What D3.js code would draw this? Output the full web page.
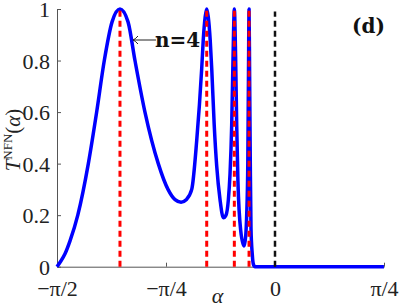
<!DOCTYPE html>
<html>
<head>
<meta charset="utf-8">
<script src="https://cdn.jsdelivr.net/npm/d3@7"></script>
<style>
  body { margin: 0; background: #fff; }
  svg { display: block; }
</style>
</head>
<body>
<div id="chart"></div>
<script>
const svgWidth = 399;
const svgHeight = 304;

const margin = { top: 9, right: 15, bottom: 37.3, left: 57 };
const width = svgWidth - margin.left - margin.right;
const height = svgHeight - margin.top - margin.bottom;

// transmission curve, alpha in radians
const alpha = [-1.571, -1.545, -1.513, -1.477, -1.421, -1.345, -1.285, -1.230, -1.174, -1.117,
  -1.059, -1.009, -0.937, -0.841, -0.771, -0.720, -0.677, -0.640, -0.600, -0.564,
  -0.528, -0.517, -0.503, -0.492, -0.481, -0.467, -0.456, -0.438, -0.420, -0.396,
  -0.372, -0.353, -0.336, -0.324, -0.312, -0.302, -0.293, -0.284, -0.276, -0.267,
  -0.247, -0.223, -0.211, -0.204, -0.196, -0.191, -0.187, -0.183, -0.178, -0.173,
  -0.164, -0.156, -0.144, 0.785];
const tNFN = [0, 0.02, 0.05, 0.1, 0.2, 0.4, 0.6, 0.8, 0.95, 1.0,
  0.95, 0.8, 0.6, 0.4, 0.3, 0.26, 0.25, 0.26, 0.3, 0.49,
  0.77, 0.88, 0.97, 1.0, 0.97, 0.88, 0.77, 0.55, 0.39, 0.26,
  0.19, 0.2, 0.26, 0.36, 0.55, 0.82, 1.0, 0.82, 0.55, 0.33,
  0.14, 0.08, 0.12, 0.2, 0.4, 0.75, 1.0, 0.75, 0.4, 0.15,
  0.05, 0.01, 0, 0];

// resonance positions (red) and alpha = 0 (black)
const resonances = [-1.117, -0.492, -0.293, -0.187];
const zeroLine = [0];

const xTicks = [-Math.PI / 2, -Math.PI / 4, 0, Math.PI / 4];
const xTickLabels = ["\u2212\u03c0/2", "\u2212\u03c0/4", "0", "\u03c0/4"];
const yTicks = [0, 0.2, 0.4, 0.6, 0.8, 1];

const data = alpha.map((a, i) => ({ a: a, t: tNFN[i] }));

const svg = d3.select("#chart")
  .append("svg")
  .attr("width", svgWidth)
  .attr("height", svgHeight);

const chartGroup = svg.append("g")
  .attr("transform", `translate(${margin.left}, ${margin.top})`);

const xScale = d3.scaleLinear()
  .domain([-Math.PI / 2, Math.PI / 4])
  .range([0, width]);
const yScale = d3.scaleLinear()
  .domain([0, 1])
  .range([height, 0]);

// axes with inward ticks
const bottomAxis = d3.axisBottom(xScale)
  .tickValues(xTicks)
  .tickFormat((d, i) => xTickLabels[i])
  .tickSizeInner(-4)
  .tickSizeOuter(0)
  .tickPadding(8);
const leftAxis = d3.axisLeft(yScale)
  .tickValues(yTicks)
  .tickFormat(d3.format("~g"))
  .tickSizeInner(-4)
  .tickSizeOuter(0)
  .tickPadding(7);

const xAxis = chartGroup.append("g")
  .attr("transform", `translate(0, ${height})`)
  .call(bottomAxis);
const yAxis = chartGroup.append("g")
  .call(leftAxis);

[xAxis, yAxis].forEach(ax => {
  ax.select(".domain").attr("stroke", "#555").attr("stroke-width", 1);
  ax.selectAll(".tick line").attr("stroke", "#555");
  ax.selectAll(".tick text")
    .attr("font-family", "'Liberation Serif', serif")
    .attr("font-size", "22px")
    .attr("fill", "#222");
});
xAxis.selectAll(".tick text").attr("dy", "0.95em");
yAxis.selectAll(".tick text").attr("dy", "0.34em");

// blue curve
const line = d3.line()
  .x(d => xScale(d.a))
  .y(d => yScale(d.t))
  .curve(d3.curveMonotoneX);

chartGroup.append("path")
  .datum(data)
  .attr("d", line)
  .attr("fill", "none")
  .attr("stroke", "#0000ff")
  .attr("stroke-width", 3.5)
  .attr("stroke-linejoin", "round");

// dashed vertical lines
chartGroup.selectAll(".res")
  .data(resonances)
  .join("line")
  .attr("class", "res")
  .attr("x1", d => xScale(d))
  .attr("x2", d => xScale(d))
  .attr("y1", yScale(0))
  .attr("y2", yScale(1))
  .attr("stroke", "#ff0000")
  .attr("stroke-width", 3)
  .attr("stroke-dasharray", "6,4");

chartGroup.selectAll(".zero")
  .data(zeroLine)
  .join("line")
  .attr("class", "zero")
  .attr("x1", d => xScale(d))
  .attr("x2", d => xScale(d))
  .attr("y1", yScale(0))
  .attr("y2", yScale(0.99))
  .attr("stroke", "#111")
  .attr("stroke-width", 2.5)
  .attr("stroke-dasharray", "6,4");

// annotation n=4
const ax0 = xScale(resonances[0]);
const ay = 31;
const ann = chartGroup.append("g");
ann.append("line")
  .attr("x1", ax0 + 13).attr("x2", ax0 + 36)
  .attr("y1", ay).attr("y2", ay)
  .attr("stroke", "#222").attr("stroke-width", 1);
ann.append("path")
  .attr("d", `M${ax0 + 18},${ay - 4} Q${ax0 + 15},${ay - 0.5} ${ax0 + 13},${ay} Q${ax0 + 15},${ay + 0.5} ${ax0 + 18},${ay + 4}`)
  .attr("fill", "none")
  .attr("stroke", "#222").attr("stroke-width", 1);
ann.append("text")
  .attr("x", ax0 + 35)
  .attr("y", ay + 7)
  .attr("font-family", "'DejaVu Serif', serif")
  .attr("font-weight", "bold")
  .attr("font-size", "20px")
  .attr("fill", "#111")
  .text("n=4");

// panel label
chartGroup.append("text")
  .attr("x", width + 1)
  .attr("y", 24)
  .attr("text-anchor", "end")
  .attr("font-family", "'DejaVu Serif', serif")
  .attr("font-weight", "bold")
  .attr("font-size", "20px")
  .attr("fill", "#111")
  .text("(d)");

// x axis label
chartGroup.append("text")
  .attr("x", width / 2 - 3)
  .attr("y", height + 36)
  .attr("text-anchor", "middle")
  .attr("font-family", "'Liberation Serif', serif")
  .attr("font-style", "italic")
  .attr("font-size", "22px")
  .attr("fill", "#222")
  .text("\u03b1");

// y axis label
const yLabel = svg.append("text")
  .attr("transform", "translate(20, 140) rotate(-90)")
  .attr("text-anchor", "middle")
  .attr("font-family", "'Liberation Serif', serif")
  .attr("font-size", "21px")
  .attr("fill", "#222");
yLabel.append("tspan").attr("font-style", "italic").text("T");
yLabel.append("tspan").attr("font-size", "13px").attr("dy", "-8").text("NFN");
yLabel.append("tspan").attr("dy", "8").text("(");
yLabel.append("tspan").attr("font-style", "italic").text("\u03b1");
yLabel.append("tspan").text(")");
</script>
</body>
</html>
